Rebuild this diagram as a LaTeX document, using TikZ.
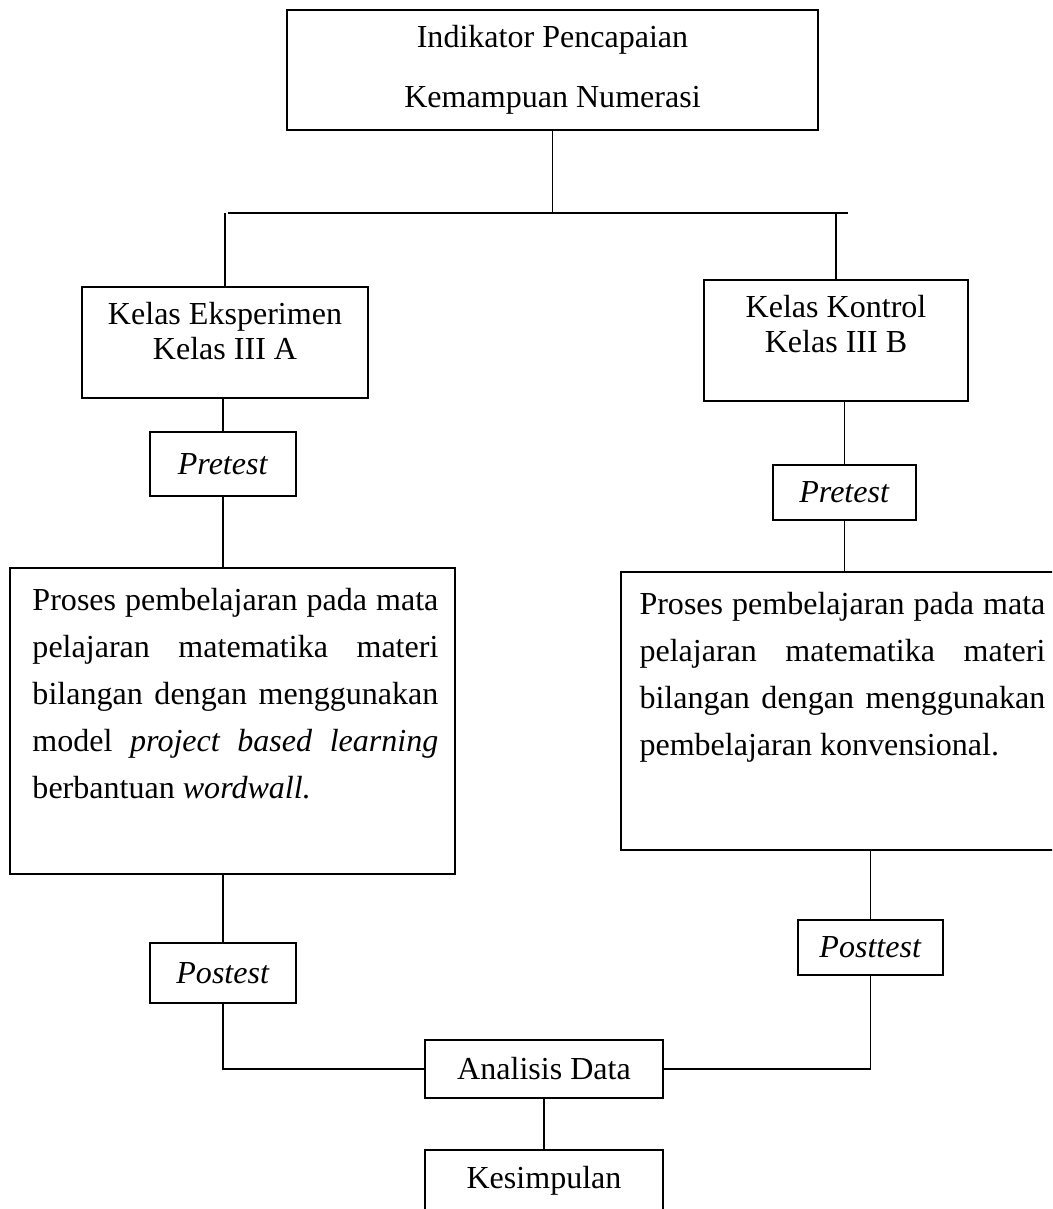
\documentclass[tikz,border=0pt]{standalone}
\usepackage{fontspec}
\setmainfont{Liberation Serif}
\usetikzlibrary{positioning}
\newcommand{\px}{0.3745pt}
\hyphenpenalty=10000
\tolerance=9999

\tikzset{
  kotak/.style 2 args={draw,line width=0.75pt,inner sep=0pt,
        minimum width=#1*\px,minimum height=#2*\px},
  garis/.style={line width=0.45pt},
  teks/.style={align=center,inner sep=0pt},
  paragraf/.style={align=justify,text width=152pt,inner sep=0pt,
        font=\fontsize{12}{17.6}\selectfont}
}

\begin{document}
\begin{tikzpicture}[x=\px,y=-\px,font=\fontsize{12}{13.1}\selectfont]
  \useasboundingbox (0,0) rectangle (1052,1209);
  \clip (0,0) rectangle (1052,1209);

  \node[kotak={531}{120},teks,font=\fontsize{12}{22.5}\selectfont]
    (indikator) at (552.5,70) {Indikator Pencapaian\\Kemampuan Numerasi};
  \coordinate (cabangkiri) at (228,213);
  \coordinate (cabangkanan) at (848,213);

  \node[kotak={286}{111}] (eksperimen) at (225,342.5) {};
  \node[teks,below=6pt of eksperimen.north] (teksEksperimen)
    {Kelas Eksperimen\\Kelas III A};
  \node[kotak={264}{121}] (kontrol) at (836,340.5) {};
  \node[teks,below=6pt of kontrol.north] (teksKontrol)
    {Kelas Kontrol\\Kelas III B};

  \node[kotak={146}{64}] (pretestA) at (223,464) {\textit{Pretest}};
  \node[kotak={143}{55}] (pretestB) at (844.5,492.5) {\textit{Pretest}};

  \node[kotak={445}{306}] (prosesA) at (232.5,721) {};
  \node[paragraf,below right=7.9pt and 8.6pt of prosesA.north west] (teksProsesA)
    {Proses pembelajaran pada mata\linebreak
     pelajaran matematika materi\linebreak
     bilangan dengan menggunakan\linebreak
     model \textit{project based learning}\linebreak
     berbantuan \textit{wordwall.}};
  \node[kotak={441}{278}] (prosesB) at (841.5,711) {};
  \node[paragraf,below right=7.9pt and 7.1pt of prosesB.north west] (teksProsesB)
    {Proses pembelajaran pada mata\linebreak
     pelajaran matematika materi\linebreak
     bilangan dengan menggunakan\linebreak
     pembelajaran konvensional.};

  \node[kotak={146}{60}] (postestA) at (223,973) {\textit{Postest}};
  \node[kotak={145}{55}] (posttestB) at (870.5,947.5) {\textit{Posttest}};
  \node[kotak={238}{58}] (analisis) at (544,1069) {Analisis Data};
  \node[kotak={238}{62}] (kesimpulan) at (544,1181) {Kesimpulan};

  \draw[garis] (indikator.south) -- (indikator.south |- cabangkiri);
  \draw[garis] (cabangkiri) -- (cabangkanan);
  \draw[garis] (eksperimen.north) -- (eksperimen.north |- cabangkiri);
  \draw[garis] (kontrol.north) -- (kontrol.north |- cabangkanan);
  \draw[garis] (eksperimen.south -| pretestA) -- (pretestA.north);
  \draw[garis] (pretestA.south) -- (pretestA.south |- prosesA.north);
  \draw[garis] (kontrol.south -| pretestB) -- (pretestB.north);
  \draw[garis] (pretestB.south) -- (pretestB.south |- prosesB.north);
  \draw[garis] (prosesA.south -| postestA) -- (postestA.north);
  \draw[garis] (postestA.south) |- (analisis.west);
  \draw[garis] (prosesB.south -| posttestB) -- (posttestB.north);
  \draw[garis] (posttestB.south) |- (analisis.east);
  \draw[garis] (analisis.south) -- (kesimpulan.north);
\end{tikzpicture}
\end{document}
